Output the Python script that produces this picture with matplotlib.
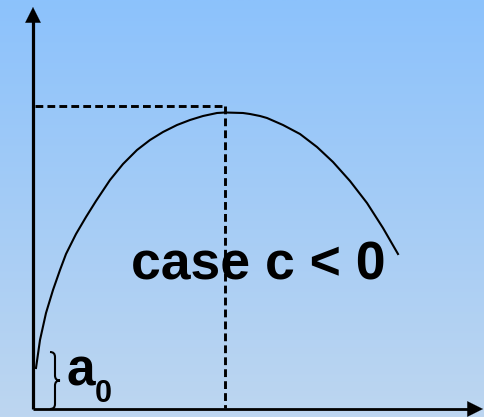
import matplotlib
matplotlib.use("Agg")
import matplotlib.pyplot as plt
import numpy as np
from matplotlib.path import Path
from matplotlib.patches import PathPatch
from matplotlib.colors import LinearSegmentedColormap

# curve (t = time along x axis, y = value), origin at axis corner
curve_t = [3, 7, 13, 20, 27, 33, 43, 53, 63, 77, 90, 104, 117, 130, 144,
           157, 170, 184, 192, 210, 217, 227, 234, 250, 267, 284, 300, 317,
           334, 350, 365]
curve_y = [41, 69, 96, 119, 139, 155, 175, 192, 208, 229, 245, 259, 269, 277,
           284, 289, 293, 296, 296.5, 296, 295, 293, 291, 284, 275, 262, 247,
           228, 206, 181, 155]

peak_t = 192
peak_level = 303
a0_level = 57

label_text = "case c < 0"

plt.rcParams['lines.scale_dashes'] = False
plt.rcParams['font.family'] = ['Liberation Sans', 'DejaVu Sans']

fig = plt.figure(figsize=(4.85, 4.17), dpi=100)
ax = fig.add_axes([0, 0, 1, 1])
ax.set_xlim(-33, 452)
ax.set_ylim(-8, 409)
ax.axis('off')

# gradient background
cmap = LinearSegmentedColormap.from_list('bg', ['#BDD6F0', '#8CC2FC'])
grad = np.linspace(0, 1, 256).reshape(-1, 1)
ax.imshow(grad, cmap=cmap, origin='lower', aspect='auto',
          extent=(-33, 452, -8, 409), zorder=0)

# axes with arrows
ax.plot([0, 0], [0, 390], color='black', lw=2.3, solid_capstyle='butt', zorder=3)
ax.plot([0, 436], [0, 0], color='black', lw=2.0, solid_capstyle='butt', zorder=3)
ax.annotate('', xy=(0, 402), xytext=(0, 380),
            arrowprops=dict(arrowstyle='-|>', color='black', lw=0.1,
                            mutation_scale=28, shrinkA=0, shrinkB=0), zorder=4)
ax.annotate('', xy=(450, 0), xytext=(428, 0),
            arrowprops=dict(arrowstyle='-|>', color='black', lw=0.1,
                            mutation_scale=28, shrinkA=0, shrinkB=0), zorder=4)

# dashed guide lines to the maximum
ax.plot([2, peak_t], [peak_level, peak_level], color='black', lw=2.1,
        dashes=(5.6, 3.0), zorder=2)
ax.plot([peak_t, peak_t], [peak_level, 1], color='black', lw=2.1,
        dashes=(5.6, 3.0), zorder=2)

# the curve
ax.plot(curve_t, curve_y, color='black', lw=1.5, zorder=3,
        solid_joinstyle='round')

# brace for a0
y0, y1 = 0, a0_level
ym = (y0 + y1) / 2
verts = [(17, y1), (22, y1), (22, y1 - 5),
         (22, ym + 5),
         (22, ym), (27, ym),
         (22, ym), (22, ym - 5),
         (22, y0 + 5),
         (22, y0), (17, y0)]
codes = [Path.MOVETO, Path.CURVE3, Path.CURVE3,
         Path.LINETO,
         Path.CURVE3, Path.CURVE3,
         Path.CURVE3, Path.CURVE3,
         Path.LINETO,
         Path.CURVE3, Path.CURVE3]
ax.add_patch(PathPatch(Path(verts, codes), facecolor='none',
                       edgecolor='black', lw=1.5, zorder=3))

ax.text(33, 24, 'a', fontsize=37, fontweight='bold', ha='left',
        va='baseline', zorder=5)
ax.text(62, 7, '0', fontsize=22, fontweight='bold', ha='left',
        va='baseline', zorder=5)

ax.text(98, 129, label_text, fontsize=38.5, fontweight='bold', ha='left',
        va='baseline', zorder=5)

fig.savefig('out.png', dpi=100)
